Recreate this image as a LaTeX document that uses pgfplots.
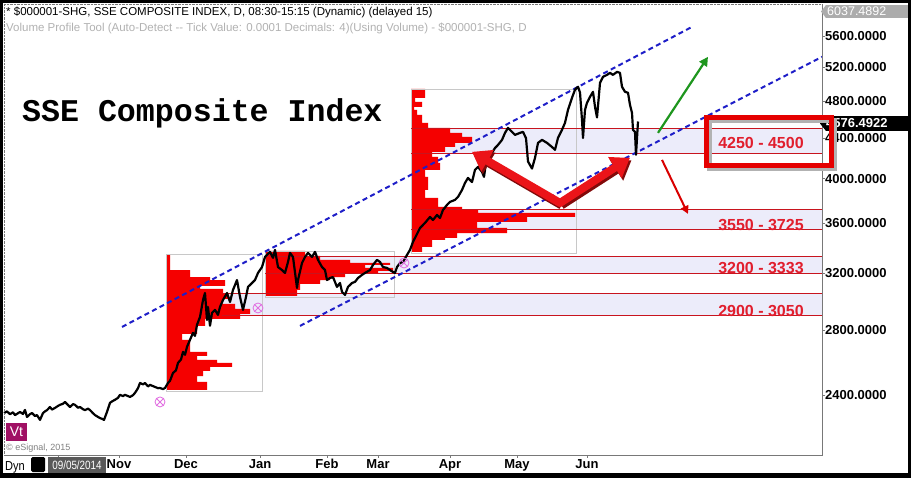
\documentclass[border=0pt]{standalone}
\usepackage{fontspec}
\setmainfont{Liberation Sans}
\newfontfamily\monofont{Liberation Mono}
\usepackage{graphicx}
\usepackage{pgfplots}
\pgfplotsset{compat=1.18}
\usetikzlibrary{arrows.meta}
\definecolor{profred}{RGB}{245,0,0}
\definecolor{bandred}{RGB}{200,20,30}
\definecolor{labred}{RGB}{225,30,45}
\definecolor{lav}{RGB}{236,236,250}
\definecolor{chanblue}{RGB}{30,30,200}
\definecolor{arrgreen}{RGB}{30,150,30}
\definecolor{vtmag}{RGB}{160,16,100}
\definecolor{otpink}{RGB}{225,110,225}
\definecolor{boxgray}{RGB}{200,200,200}
\definecolor{framegray}{RGB}{120,120,120}
\definecolor{arrred}{RGB}{235,20,25}
\definecolor{arrshadow}{RGB}{130,10,10}
\begin{document}
\begin{tikzpicture}
\begin{scope}[x=1pt,y=1pt]
\fill[black] (0,0) rectangle (911,-478);
\fill[white] (3,-3) rectangle (908,-473);
\end{scope}
\begin{axis}[
  at={(4pt,-455pt)}, anchor=south west,
  scale only axis, width=818pt, height=451pt,
  xmin=4, xmax=822, ymin=2084.5, ymax=6037.5, ymode=log,
  clip=false,
  axis line style={draw=none},
  tick align=outside, major tick length=3pt,
  tick style={framegray, thin},
  minor tick num=0,
  ytick={2400,2800,3200,3600,4000,4400,4800,5200,5600},
  yticklabels={2400.0000,2800.0000,3200.0000,3600.0000,4000.0000,4400.0000,4800.0000,5200.0000,5600.0000},
  ytick pos=right, yticklabel pos=right,
  yticklabel style={font=\bfseries\fontsize{13}{15}\selectfont, anchor=west, inner sep=0pt},
  xtick={58,119,186,260,327,378,450,517,587},
  xticklabels={,Nov,Dec,Jan,Feb,Mar,Apr,May,Jun},
  xtick pos=bottom,
  xticklabel style={font=\bfseries\fontsize{13}{15}\selectfont, anchor=north, inner sep=0pt, yshift=-1pt},
]
% bands
\fill[lav] (axis cs:411,4250) rectangle (axis cs:822,4500);
\fill[lav] (axis cs:411,3550) rectangle (axis cs:822,3725);
\fill[lav] (axis cs:265,3200) rectangle (axis cs:822,3333);
\fill[lav] (axis cs:222,2900) rectangle (axis cs:822,3050);
% volume profile 1
\addplot[fill=profred, draw=none] coordinates {
(167,3341) (170,3341) (170,3224) (190,3224) (190,3171) (210,3171) (210,3149) (225,3149) (225,3105) (200,3105) (200,3084) (223,3084) (223,3048) (228,3048) (228,3012) (222,3012) (222,2976) (235,2976) (235,2941) (250,2941) (250,2907) (240,2907) (240,2873) (205,2873) (205,2826) (197,2826) (197,2773) (182,2773) (182,2735) (190,2735) (190,2658) (207,2658) (207,2633) (197,2633) (197,2608) (217,2608) (217,2590) (232,2590) (232,2565) (210,2565) (210,2541) (203,2541) (203,2511) (197,2511) (197,2476) (207,2476) (207,2430) (167,2430) (167,3341)
};
% volume profile 2
\addplot[fill=profred, draw=none] coordinates {
(265,3373) (305,3373) (305,3333) (320,3333) (320,3302) (350,3302) (350,3278) (390,3278) (390,3263) (365,3263) (365,3240) (393,3240) (393,3217) (378,3217) (378,3194) (345,3194) (345,3171) (330,3171) (330,3149) (320,3149) (320,3120) (300,3120) (300,3076) (297,3076) (297,3033) (265,3033) (265,3373)
};
% volume profile 3
\addplot[fill=profred, draw=none] coordinates {
(411,4942) (425,4942) (425,4838) (415,4838) (415,4793) (422,4793) (422,4737) (414,4737) (414,4703) (417,4703) (417,4648) (422,4648) (422,4561) (428,4561) (428,4508) (450,4508) (450,4455) (462,4455) (462,4413) (472,4413) (472,4351) (455,4351) (455,4310) (445,4310) (445,4260) (432,4260) (432,4210) (438,4210) (438,4150) (440,4150) (440,4082) (425,4082) (425,4016) (428,4016) (428,3894) (425,3894) (425,3822) (438,3822) (438,3741) (462,3741) (462,3715) (478,3715) (478,3689) (575,3689) (575,3654) (527,3654) (527,3611) (477,3611) (477,3560) (507,3560) (507,3518) (457,3518) (457,3477) (445,3477) (445,3461) (432,3461) (432,3405) (422,3405) (422,3365) (411,3365) (411,4942)
};
% profile boxes
\draw[boxgray] (axis cs:166,2424) rectangle (axis cs:262,3349);
\draw[boxgray] (axis cs:265,3026) rectangle (axis cs:394,3373);
\draw[boxgray] (axis cs:411,3357) rectangle (axis cs:576,4942);
% band lines
\draw[bandred] (axis cs:411,4500) -- (axis cs:822,4500);
\draw[bandred] (axis cs:411,4250) -- (axis cs:822,4250);
\draw[bandred] (axis cs:411,3725) -- (axis cs:822,3725);
\draw[bandred] (axis cs:411,3550) -- (axis cs:822,3550);
\draw[bandred] (axis cs:265,3333) -- (axis cs:822,3333);
\draw[bandred] (axis cs:265,3200) -- (axis cs:822,3200);
\draw[bandred] (axis cs:222,3050) -- (axis cs:822,3050);
\draw[bandred] (axis cs:222,2900) -- (axis cs:822,2900);
% channel
\draw[chanblue, line width=2pt, dash pattern=on 5pt off 3.5pt] (axis cs:122,2819) -- (axis cs:692,5720);
\draw[chanblue, line width=2pt, dash pattern=on 5pt off 3.5pt] (axis cs:300,2826) -- (axis cs:822,5330);
% price
\addplot[black, line width=2.2pt, line join=round] coordinates {
(4,2301) (7,2310) (10,2295) (13,2305) (15,2290) (18,2300) (20,2307) (23,2296) (25,2318) (27,2280) (30,2295) (32,2301) (35,2285) (37,2290) (40,2264) (43,2301) (45,2310) (47,2317) (50,2334) (52,2320) (55,2329) (58,2340) (60,2346) (63,2352) (65,2362) (68,2345) (70,2334) (73,2350) (75,2346) (78,2330) (80,2334) (83,2322) (85,2317) (88,2325) (90,2317) (93,2300) (95,2290) (98,2280) (100,2274) (102,2270) (104,2264) (107,2307) (110,2357) (112,2365) (115,2374) (118,2385) (120,2402) (123,2395) (125,2402) (128,2395) (130,2390) (133,2400) (135,2413) (138,2440) (140,2470) (143,2462) (145,2470) (148,2450) (150,2459) (153,2452) (155,2447) (158,2440) (160,2441) (163,2435) (165,2441) (168,2470) (170,2483) (173,2529) (176,2545) (178,2590) (181,2610) (183,2658) (185,2640) (187,2690) (190,2735) (193,2780) (195,2760) (197,2833) (200,2886) (203,3004) (205,3054) (207,2866) (208,2955) (210,2827) (212,2914) (215,2935) (218,2900) (220,2955) (223,3004) (227,3054) (230,2990) (233,3076) (237,3149) (240,3026) (243,2935) (246,3026) (248,3098) (252,3127) (255,3149) (258,3202) (262,3247) (265,3325) (267,3341) (270,3365) (273,3318) (275,3381) (278,3247) (282,3224) (285,3202) (288,3286) (290,3357) (293,3325) (297,3091) (298,3149) (302,3278) (305,3325) (308,3357) (312,3325) (315,3365) (318,3302) (322,3247) (325,3224) (327,3149) (330,3164) (333,3171) (337,3098) (340,3127) (342,3062) (345,3040) (348,3098) (352,3127) (355,3135) (358,3164) (362,3187) (365,3202) (370,3224) (373,3263) (377,3302) (380,3286) (383,3247) (387,3240) (390,3224) (393,3209) (395,3202) (397,3247) (400,3278) (403,3286) (407,3341) (410,3381) (413,3445) (415,3477) (420,3560) (425,3603) (430,3654) (433,3628) (437,3671) (440,3645) (443,3715) (447,3759) (450,3786) (455,3804) (458,3831) (462,3894) (465,3959) (468,4006) (472,3968) (475,4083) (478,4111) (482,4063) (484,4016) (486,4150) (488,4210) (492,4250) (495,4299) (498,4330) (502,4382) (505,4455) (508,4508) (512,4465) (515,4434) (520,4455) (523,4465) (526,4400) (528,4164) (532,4095) (535,4200) (538,4351) (542,4382) (547,4351) (552,4309) (555,4280) (558,4402) (562,4487) (565,4562) (568,4703) (572,4839) (575,4932) (578,4966) (580,4900) (582,4593) (583,4402) (585,4703) (587,4782) (590,4850) (593,4908) (595,4737) (597,4620) (600,5012) (603,5084) (607,5108) (610,5132) (613,5108) (617,5144) (620,5132) (622,4966) (625,4908) (628,4896) (630,4759) (632,4670) (633,4487) (635,4465) (636,4230) (638,4576)
};
% markers
\addplot[only marks, mark=otimes, mark size=5pt, color=otpink, thick] coordinates {(160,2362) (258,2948) (404,3278)};
% arrows
\begin{scope}[shift={(1.5pt,-2.5pt)}]
\draw[arrshadow, line width=8pt, -{Triangle[length=18pt,width=24pt]}] (axis cs:560,3777) -- (axis cs:472,4260);
\draw[arrshadow, line width=8pt, -{Triangle[length=18pt,width=24pt]}] (axis cs:560,3777) -- (axis cs:630,4200);
\end{scope}
\draw[arrred, line width=8pt, line cap=round, -{Triangle[length=18pt,width=24pt]}] (axis cs:560,3777) -- (axis cs:472,4260);
\draw[arrred, line width=8pt, line cap=round, -{Triangle[length=18pt,width=24pt]}] (axis cs:560,3777) -- (axis cs:630,4200);
\draw[arrgreen, line width=2.2pt, -{Triangle[length=9pt,width=9pt]}] (axis cs:658,4455) -- (axis cs:708,5330);
\draw[red!85!black, line width=2pt, -{Triangle[length=8pt,width=8pt]}] (axis cs:662,4180) -- (axis cs:688,3680);
\end{axis}
\begin{scope}[x=1pt,y=1pt]
% frame
\draw[framegray, densely dotted] (4,-4) -- (822,-4);
\draw[framegray, densely dotted] (4,-4) -- (4,-455);
\draw[framegray] (822,-4) -- (822,-455) -- (4,-455);
% header texts
\node[anchor=base west, inner sep=0, font=\fontsize{11.5}{13}\selectfont] at (6,-16) {* \$000001-SHG, SSE COMPOSITE INDEX, D, 08:30-15:15 (Dynamic) (delayed 15)};
\node[anchor=base west, inner sep=0, text=gray!60, font=\fontsize{11.5}{13}\selectfont] at (6,-32) {Volume Profile Tool (Auto-Detect -{}- Tick Value: 0.0001 Decimals: 4)(Using Volume) - \$000001-SHG, D};
% title
\node[anchor=base west, inner sep=0, font=\monofont\bfseries\fontsize{31.6}{34}\selectfont] at (22,-122) {SSE Composite Index};
% band labels
\node[text=labred, font=\bfseries\fontsize{16}{18}\selectfont] at (761,-225) {3550 - 3725};
\node[text=labred, font=\bfseries\fontsize{16}{18}\selectfont] at (761,-268) {3200 - 3333};
\node[text=labred, font=\bfseries\fontsize{16}{18}\selectfont] at (761,-311) {2900 - 3050};
% right panel boxes
\fill[gray!65] (826,-5) rectangle (908,-18);
\fill[gray!65] (826,-5) -- (821,-11.5) -- (826,-18) -- cycle;
\node[anchor=west, inner sep=0, text=white, font=\fontsize{12.5}{14}\selectfont] at (827,-11.5) {6037.4892};
\fill[black] (826,-116) rectangle (908,-131);
\fill[black] (826,-116) -- (820,-123.5) -- (826,-131) -- cycle;
\node[anchor=west, inner sep=0, text=white, font=\bfseries\fontsize{13}{15}\selectfont] at (826,-123.5) {4576.4922};
% big red box
\draw[gray!60, line width=5pt] (709,-121) rectangle (834,-169);
\draw[red!90!black, line width=5pt] (706,-118) rectangle (831,-166);
\node[text=labred, font=\bfseries\fontsize{16}{18}\selectfont] at (761,-143) {4250 - 4500};
% Vt + copyright
\fill[vtmag] (6,-423) rectangle (27,-441);
\node[text=white, font=\fontsize{14}{16}\selectfont] at (16.5,-432) {Vt};
\node[anchor=base west, inner sep=0, text=gray, font=\fontsize{9}{10}\selectfont] at (6,-450) {\textcopyright{} eSignal, 2015};
% bottom row
\node[anchor=base west, inner sep=0, font=\fontsize{13}{15}\selectfont] at (5,-470) {\scalebox{0.85}[1]{Dyn}};
\fill[black, rounded corners=1.5pt] (31,-457) rectangle (45,-472);
\fill[gray!70!black] (48,-457) rectangle (106,-473);
\node[text=white, inner sep=0, font=\fontsize{12}{14}\selectfont] at (77,-465) {\scalebox{0.82}[1]{09/05/2014}};
\end{scope}
\pgfresetboundingbox
\path[use as bounding box] (0pt,0pt) rectangle (911pt,-478pt);
\end{tikzpicture}
\end{document}
